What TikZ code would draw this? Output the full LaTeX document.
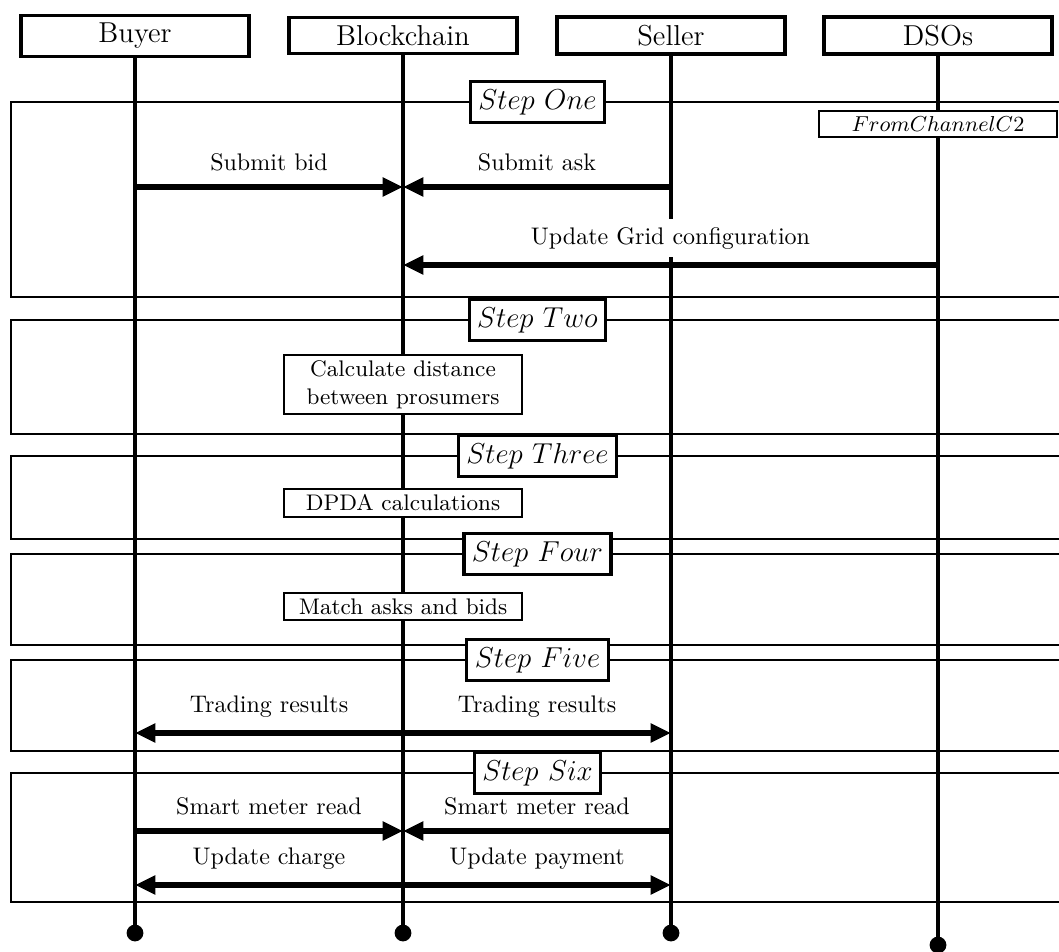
\documentclass[tikz,border=0pt]{standalone}
\usepackage{fontspec}
\usetikzlibrary{arrows.meta}
\begin{document}
\begin{tikzpicture}[x=0.41667pt, y=-0.41667pt,
  actor/.style={draw, line width=1.4pt, minimum width=95pt, font=\large, fill=white},
  life/.style={line width=1.5pt},
  stepframe/.style={line width=0.8pt},
  steplabel/.style={draw, line width=1.3pt, fill=white, font=\large},
  actbox/.style={draw, line width=0.8pt, fill=white, minimum width=99pt, inner sep=2.3pt,
                 align=center, font=\fontsize{9.4}{11.5}\selectfont},
  msg/.style={line width=2.4pt, -{Triangle[length=8.5pt,width=7.5pt]}},
  dmsg/.style={line width=2.4pt, {Triangle[length=8.5pt,width=7.5pt]}-{Triangle[length=8.5pt,width=7.5pt]}},
  lbl/.style={above=2pt, fill=white, font=\normalsize},
  enddot/.style={circle, fill, inner sep=0pt, minimum size=7pt}
]
\useasboundingbox (0,0) rectangle (1059,952);

% step frames (open to the right)
\begin{scope}
  \clip (0,0) rectangle (1059,952);
  \foreach \t/\b in {102/297, 320/434, 456/539, 554/645, 660/751, 773/902}
    \draw[stepframe] (11,\t) rectangle (1090,\b);
\end{scope}

% participants
\node[actor] (buyer)  at (135,36)   {Buyer};
\node[actor] (chain)  at (403,35.5) {Blockchain};
\node[actor] (seller) at (671,35.5) {Seller};
\node[actor] (dso)    at (938,35.5) {DSOs};

% lifeline ends
\node[enddot] (buyerEnd)  at (135,933) {};
\node[enddot] (chainEnd)  at (403,933) {};
\node[enddot] (sellerEnd) at (671,933) {};
\node[enddot] (dsoEnd)    at (938,945) {};

% lifelines
\draw[life] (buyer.south)  -- (buyerEnd.center);
\draw[life] (chain.south)  -- (chainEnd.center);
\draw[life] (seller.south) -- (sellerEnd.center);
\draw[life] (dso.south)    -- (dsoEnd.center);

% actions
\node[actbox] (c2)    at (dso |- 0,124)     {$FromChannelC2$};
\node[actbox] (dist)  at (chain |- 0,384.5) {Calculate distance\\between prosumers};
\node[actbox] (dpda)  at (chain |- 0,503)   {DPDA calculations};
\node[actbox] (match) at (chain |- 0,606.5) {Match asks and bids};

% step one
\draw[msg] (buyer |- 0,187)  -- node[lbl] {Submit bid} (chain |- 0,187);
\draw[msg] (seller |- 0,187) -- node[lbl] {Submit ask} (chain |- 0,187);
\draw[msg] (dso |- 0,265)    -- node[lbl] {Update Grid configuration} (chain |- 0,265);

% step five
\draw[dmsg] (buyer |- 0,733) -- node[lbl, pos=0.25] {Trading results}
                                node[lbl, pos=0.75] {Trading results} (seller |- 0,733);

% step six
\draw[msg] (buyer |- 0,831)  -- node[lbl] {Smart meter read} (chain |- 0,831);
\draw[msg] (seller |- 0,831) -- node[lbl] {Smart meter read} (chain |- 0,831);
\draw[dmsg] (buyer |- 0,885) -- node[lbl, pos=0.25] {Update charge}
                                node[lbl, pos=0.75] {Update payment} (seller |- 0,885);

% step titles, on top of everything
\node[steplabel] (s1) at (537.5,102) {$Step\ One$};
\node[steplabel] (s2) at (537.5,320) {$Step\ Two$};
\node[steplabel] (s3) at (537.5,456) {$Step\ Three$};
\node[steplabel] (s4) at (537.5,554) {$Step\ Four$};
\node[steplabel] (s5) at (537.5,660) {$Step\ Five$};
\node[steplabel] (s6) at (537.5,773) {$Step\ Six$};
\end{tikzpicture}
\end{document}
